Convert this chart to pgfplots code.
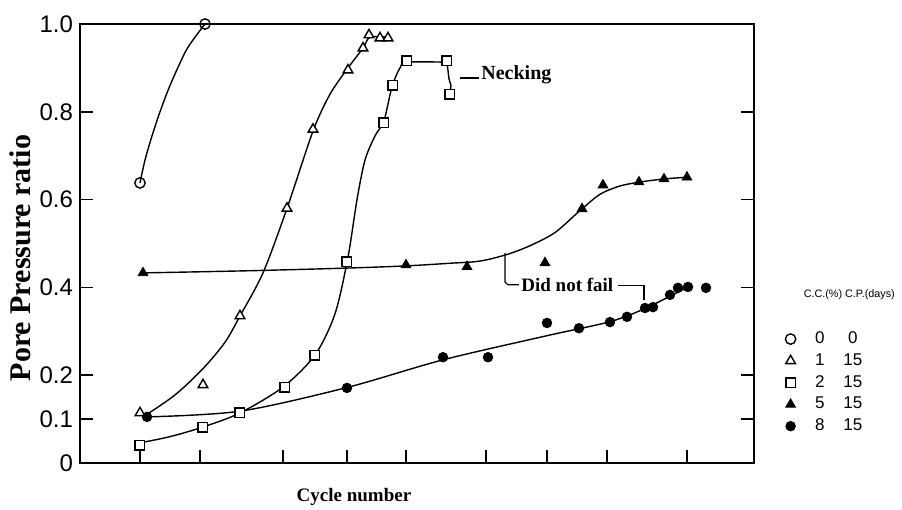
\documentclass[border=0pt]{standalone}
\usepackage{fontspec}
\setmainfont{Liberation Serif}
\setsansfont{Liberation Sans}
\usepackage{pgfplots}
\pgfplotsset{compat=1.18}
\pgfplotsset{
  lm/.style={only marks, legend image code/.code={\draw[##1] plot coordinates {(0pt,0pt)};}},
  crv/.style={no marks, smooth, black, line width=0.7pt, forget plot},
}
\begin{document}
\begin{tikzpicture}[x=1pt,y=1pt]
\useasboundingbox (0,0) rectangle (451,255);
\begin{axis}[
  at={(40pt,23.5pt)}, anchor=south west,
  scale only axis, width=337pt, height=219.5pt,
  xmin=80, xmax=754, ymin=0, ymax=1,
  clip=false,
  axis line style={line width=0.9pt},
  tick align=inside,
  xtick pos=bottom, ytick pos=both,
  xtick={140,200,283,347,406,486,547,607,687}, xticklabels={},
  ytick={0,0.1,0.2,0.4,0.6,0.8,1.0},
  yticklabels={0,0.1,0.2,0.4,0.6,0.8,1.0},
  major tick length=6.5pt,
  tick style={line width=0.8pt, black},
  yticklabel style={font=\sffamily\fontsize{12}{12}\selectfont},
  /pgf/number format/assume math mode=true,
  xlabel={Cycle number}, ylabel={Pore Pressure ratio},
  xlabel style={font=\bfseries\fontsize{9.5}{9.5}\selectfont, at={(rel axis cs:0.4065,-0.077)}, anchor=center},
  ylabel style={font=\bfseries\fontsize{15}{15}\selectfont, at={(rel axis cs:-0.088,0.467)}, anchor=center},
  legend style={at={(axis cs:785,0.40)}, anchor=north west, draw=none, fill=none,
    inner sep=0pt, row sep=1.5pt, font=\sffamily\fontsize{8.5}{8.5}\selectfont,
    nodes={inner sep=1pt}},
  legend cell align=left,
]
% legend header rows
\addlegendimage{empty legend}
\addlegendimage{empty legend}

% fitted curves
\addplot[crv] coordinates {(140,0.638) (145,0.69) (152,0.745) (160,0.80) (170,0.86) (185,0.935) (195,0.97) (205,1.0)};
\addplot[crv] coordinates {(145,0.108) (175,0.155) (203,0.215) (225,0.275) (240,0.335) (263,0.433) (287,0.58) (313,0.756) (330,0.84) (348,0.9) (363,0.945) (370,0.97) (388,0.97)};
\addplot[crv] coordinates {(140,0.046) (170,0.06) (203,0.082) (240,0.114) (283,0.173) (315,0.246) (335,0.34) (348,0.469) (357,0.6) (365,0.69) (375,0.745) (384,0.78) (392,0.857) (400,0.9) (407,0.913) (447,0.913)};
\addplot[no marks, black, line width=0.7pt, forget plot] coordinates {(447,0.913) (449,0.875) (451,0.86) (450,0.84)};
\addplot[crv] coordinates {(143,0.433) (250,0.438) (347,0.444) (406,0.449) (450,0.455) (480,0.46) (507,0.475) (530,0.495) (555,0.525) (580,0.575) (600,0.612) (620,0.631) (640,0.64) (664,0.647) (687,0.651)};
\addplot[crv] coordinates {(147,0.105) (240,0.118) (347,0.172) (443,0.235) (547,0.29) (610,0.322) (645,0.352) (688,0.401)};

% data points
\addplot[lm, mark=o, mark size=2.6pt, mark options={draw=black, fill=white, line width=0.7pt}]
  coordinates {(140,0.638) (205,1.0)};
\addplot[lm, mark=triangle*, mark size=2.8pt, mark options={draw=black, fill=white, line width=0.7pt}]
  coordinates {(140,0.114) (203,0.178) (240,0.335) (287,0.58) (313,0.76) (348,0.895) (363,0.945) (369,0.975) (380,0.968) (388,0.968)};
\addplot[lm, mark=square*, mark size=2.4pt, mark options={draw=black, fill=white, line width=0.7pt}]
  coordinates {(140,0.041) (203,0.082) (240,0.114) (285,0.173) (315,0.246) (347,0.458) (384,0.775) (393,0.861) (407,0.916) (447,0.916) (450,0.84)};
\addplot[lm, mark=triangle*, mark size=2.8pt, mark options={draw=black, fill=black}]
  coordinates {(143,0.433) (406,0.451) (467,0.447) (545,0.456) (582,0.579) (603,0.633) (639,0.64) (664,0.647) (687,0.651)};
\addplot[lm, mark=*, mark size=2.4pt, mark options={draw=black, fill=black}]
  coordinates {(147,0.105) (347,0.171) (443,0.241) (488,0.241) (547,0.319) (579,0.307) (610,0.321) (627,0.333) (645,0.353) (653,0.355) (670,0.383) (678,0.399) (688,0.401) (706,0.399)};

\legend{{\hspace*{3pt}\fontsize{5.4}{5.4}\selectfont C.C.(\%) C.P.(days)},{\rule{0pt}{7pt}},
  \hspace*{5pt}\makebox[12pt]{0}\makebox[21pt]{0},
  \hspace*{5pt}\makebox[12pt]{1}\makebox[21pt]{15},
  \hspace*{5pt}\makebox[12pt]{2}\makebox[21pt]{15},
  \hspace*{5pt}\makebox[12pt]{5}\makebox[21pt]{15},
  \hspace*{5pt}\makebox[12pt]{8}\makebox[21pt]{15}}

% annotations
\node[anchor=west, font=\bfseries\fontsize{10}{10}\selectfont, inner sep=0pt] at (axis cs:481,0.884) {Necking};
\draw[line width=0.6pt] (axis cs:460,0.877) -- (axis cs:479,0.877);
\node[anchor=west, font=\bfseries\fontsize{9.5}{9.5}\selectfont, inner sep=0pt] at (axis cs:521,0.405) {Did not fail};
\draw[line width=0.6pt] (axis cs:505,0.478) -- (axis cs:505,0.412) -- (axis cs:508,0.406) -- (axis cs:519,0.406);
\draw[line width=0.6pt] (axis cs:618,0.405) -- (axis cs:644,0.405) -- (axis cs:644,0.371);
\end{axis}
\end{tikzpicture}
\end{document}
